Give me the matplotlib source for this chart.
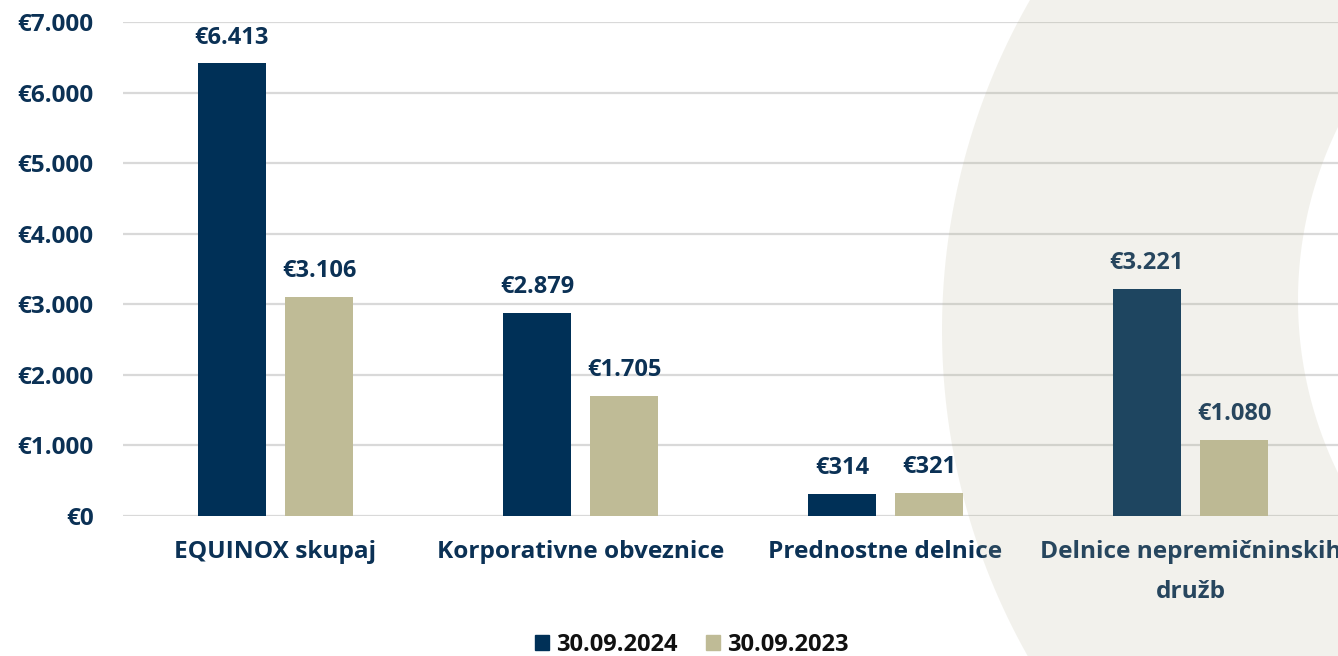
import numpy as np
import matplotlib
matplotlib.use("Agg")
import matplotlib.pyplot as plt
from matplotlib.path import Path
from matplotlib.patches import PathPatch, Patch

plt.rcParams['font.family'] = ['Open Sans', 'DejaVu Sans']
plt.rcParams['font.weight'] = 'bold'

categories = ["EQUINOX skupaj", "Korporativne obveznice", "Prednostne delnice",
              "Delnice nepremičninskih\ndružb"]
series_names = ["30.09.2024", "30.09.2023"]
values_2024 = [6413, 2879, 314, 3221]
values_2023 = [3106, 1705, 321, 1080]
yticks = [0, 1000, 2000, 3000, 4000, 5000, 6000, 7000]

NAVY = "#003057"
TAN = "#BFBB96"
TEXT = "#0B3155"


def eur(v):
    return "€" + f"{v:,.0f}".replace(",", ".")


W, H = 1338, 656
fig = plt.figure(figsize=(W / 100, H / 100), dpi=100)
ax = fig.add_axes([123 / W, 140 / H, 1220 / W, 494 / H])

x = np.arange(len(categories))
bw = 0.223
off = 0.143
b1 = ax.bar(x - off, values_2024, bw, color=NAVY, zorder=3, label=series_names[0])
b2 = ax.bar(x + off, values_2023, bw, color=TAN, zorder=3, label=series_names[1])

for bars, vals in ((b1, values_2024), (b2, values_2023)):
    for rect, v in zip(bars, vals):
        ax.annotate(eur(v), (rect.get_x() + rect.get_width() / 2, v),
                    xytext=(0, 10), textcoords="offset points",
                    ha="center", va="bottom", fontsize=17, fontweight="bold",
                    color=TEXT)

ax.set_xlim(-0.5, len(categories) - 0.5)
ax.set_ylim(0, 7000)
ax.set_yticks(yticks)
ax.set_yticklabels([eur(v) for v in yticks], fontsize=17.5, fontweight="bold", color=TEXT)
ax.set_xticks(x)
ax.set_xticklabels(categories, fontsize=17.6, fontweight="bold", color=TEXT, linespacing=1.9)
ax.tick_params(axis="y", length=0, pad=21)
ax.tick_params(axis="x", length=0, pad=17)
ax.grid(axis="y", color="#D9D9D9", linewidth=1.6, zorder=0)
for s in ax.spines.values():
    s.set_visible(False)
ax.set_facecolor("none")

handles = [Patch(color=NAVY), Patch(color=TAN)]
fig.legend(handles, series_names, loc="center", bbox_to_anchor=(692 / W, 1 - 645 / H),
           ncol=2, frameon=False, handlelength=0.6, handleheight=0.6,
           columnspacing=1.2, handletextpad=0.3, labelcolor="#111111",
           prop={"weight": "bold", "size": 17})

# decorative translucent ring on the right
ov = fig.add_axes([0, 0, 1, 1], zorder=5)
ov.set_xlim(0, W)
ov.set_ylim(H, 0)
ov.axis("off")
ov.patch.set_visible(False)
t = np.linspace(0, 2 * np.pi, 400)
outer = np.column_stack([1605 + 663 * np.cos(t), 330 + 663 * np.sin(t)])
inner = np.column_stack([1692 + 394 * np.cos(t[::-1]), 300 + 394 * np.sin(t[::-1])])
verts = np.vstack([outer, inner])
codes = np.full(len(verts), Path.LINETO)
codes[0] = Path.MOVETO
codes[len(outer)] = Path.MOVETO
ov.add_patch(PathPatch(Path(verts, codes), facecolor="#B5B090", edgecolor="none", alpha=0.17))

fig.savefig("out.png", dpi=100)
